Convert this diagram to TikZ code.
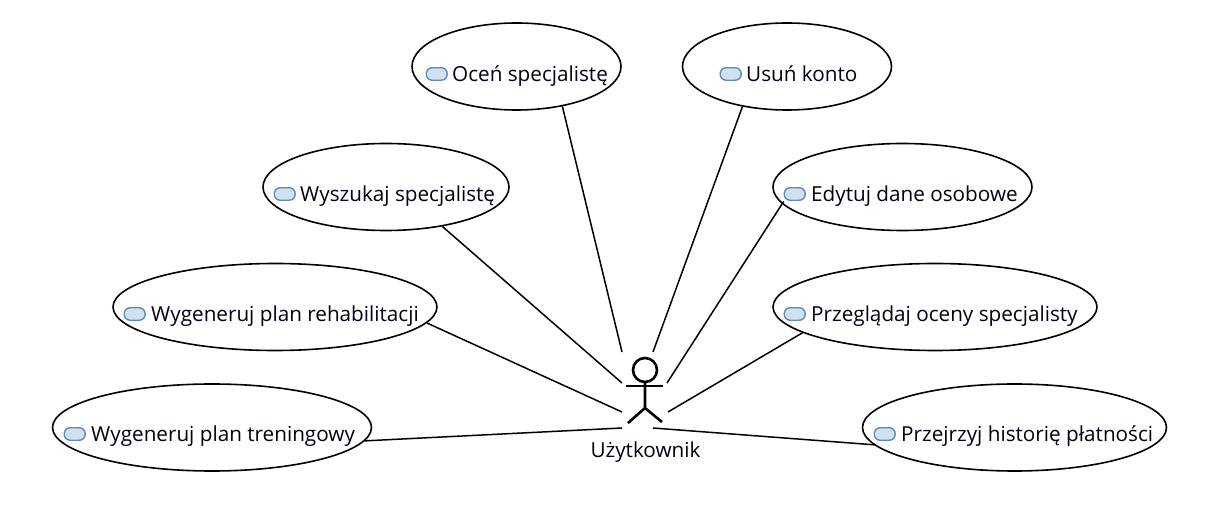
\documentclass[tikz,border=0pt]{standalone}
\usepackage{fontspec}
\setmainfont{Open Sans}
\usetikzlibrary{shapes.geometric}
\tikzset{
  x=1pt,y=-1pt,
  usecase/.style={ellipse,draw=black,line width=1.6pt,fill=white,inner sep=0pt,minimum width=#1,minimum height=87pt},
  icon/.style={rectangle,rounded corners=6pt,draw=iconedge,fill=iconfill,line width=1.4pt,minimum width=21pt,minimum height=12.5pt,inner sep=0pt,anchor=west},
  lbl/.style={anchor=base west,inner sep=0pt,text=textc,font=\fontsize{20.7}{24}\selectfont},
  conn/.style={draw=black,line width=1.5pt},
  stick/.style={draw=black,line width=2.6pt}
}
\definecolor{iconedge}{RGB}{96,140,185}
\definecolor{iconfill}{RGB}{208,225,242}
\definecolor{textc}{RGB}{0,0,20}
\begin{document}
\begin{tikzpicture}
\useasboundingbox (0,0) rectangle (1216,518);
\node[usecase=209pt] (ocen) at (516.5,66.5) {};
\node[usecase=209pt] (usun) at (787,66.5) {};
\node[usecase=246pt] (wysz) at (386,187) {};
\node[usecase=259pt] (edyt) at (902.5,187) {};
\node[usecase=324pt] (reha) at (275,307) {};
\node[usecase=324pt] (prze) at (935,307) {};
\node[usecase=319pt] (tren) at (212,427.5) {};
\node[usecase=304pt] (hist) at (1014.5,427.5) {};
\node[icon] (i1) at (425.5,74) {};
\node[lbl] (t1) at (452,81.5) {Oceń specjalistę};
\node[icon] (i2) at (719.5,74) {};
\node[lbl] (t2) at (746,81.5) {Usuń konto};
\node[icon] (i3) at (273.5,194) {};
\node[lbl] (t3) at (300,201.5) {Wyszukaj specjalistę};
\node[icon] (i4) at (783.5,194) {};
\node[lbl] (t4) at (811,201.5) {Edytuj dane osobowe};
\node[icon] (i5) at (123.5,314) {};
\node[lbl] (t5) at (151,321.5) {Wygeneruj plan rehabilitacji};
\node[icon] (i6) at (783.5,314) {};
\node[lbl] (t6) at (811,321.5) {Przeglądaj oceny specjalisty};
\node[icon] (i7) at (63.5,434) {};
\node[lbl] (t7) at (91,441.5) {Wygeneruj plan treningowy};
\node[icon] (i8) at (873.5,434) {};
\node[lbl] (t8) at (901,441.5) {Przejrzyj historię płatności};
\node[lbl,anchor=base] (actorname) at (645.5,458) {Użytkownik};
\coordinate (a1) at (622,352);
\coordinate (a2) at (653,352);
\coordinate (a3) at (622,383);
\coordinate (a4) at (667,383);
\coordinate (a5) at (622,412);
\coordinate (a6) at (668,412);
\coordinate (a7) at (622,428);
\coordinate (a8) at (653,428);
\draw[conn] (ocen.-41) -- (a1);
\draw[conn] (usun.-138) -- (a2);
\draw[conn] (wysz.-35) -- (a3);
\draw[conn,shorten <=-3pt] (edyt.-172.4) -- (a4);
\draw[conn] (reha.-6) -- (a5);
\draw[conn] (prze.-169.5) -- (a6);
\draw[conn] (tren.-5.7) -- (a7);
\draw[conn,shorten <=-2pt] (hist.-173.6) -- (a8);
\draw[stick] (645,370) circle (12);
\draw[stick] (626,386) -- (663,386);
\draw[stick] (645,382) -- (645,408) (628,423) -- (645,408) -- (662,422);
\end{tikzpicture}
\end{document}
